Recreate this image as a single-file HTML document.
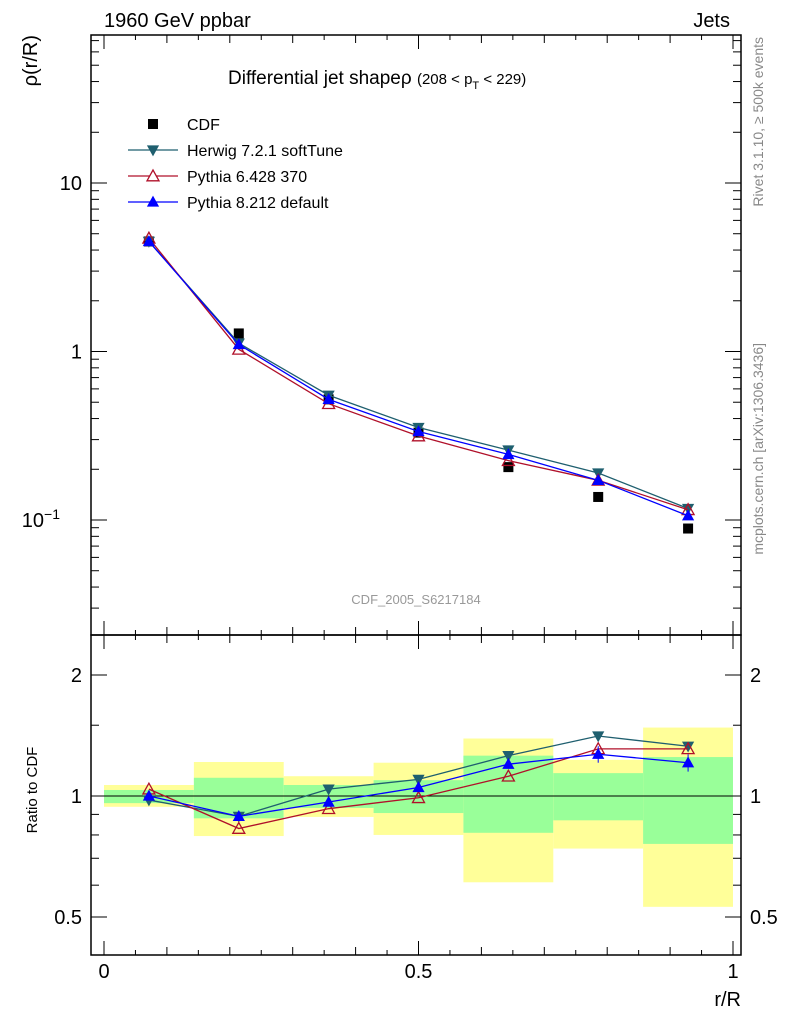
<!DOCTYPE html>
<html><head><meta charset="utf-8"><style>
html,body{margin:0;padding:0;background:#fff;}
svg{display:block;font-family:"Liberation Sans",sans-serif;}
</style></head><body>
<svg id="c" width="786" height="1024" viewBox="0 0 786 1024"></svg>
<script>
const categories=[0.0714,0.2143,0.3571,0.5,0.6429,0.7857,0.9286];
const binEdges=[0,0.1429,0.2857,0.4286,0.5714,0.7143,0.8571,1];
const cdfVals=[4.5,1.28,0.52,0.33,0.206,0.137,0.089];
const herwigVals=[4.5,1.12,0.55,0.354,0.26,0.19,0.117];
const py6Vals=[4.7,1.03,0.49,0.315,0.225,0.172,0.115];
const py8Vals=[4.5,1.1,0.52,0.335,0.245,0.172,0.106];
const herwigRatio=[0.977,0.89,1.04,1.10,1.26,1.41,1.33];
const py6Ratio=[1.04,0.83,0.93,0.99,1.12,1.31,1.31];
const py8Ratio=[1.0,0.89,0.966,1.05,1.20,1.27,1.21];
const py8RatioErr=[0.02,0.02,0.02,0.02,0.03,0.06,0.06];
const yellowHi=[1.065,1.215,1.12,1.21,1.39,1.23,1.48];
const yellowLo=[0.94,0.795,0.887,0.80,0.61,0.74,0.53];
const greenHi=[1.035,1.11,1.065,1.095,1.26,1.14,1.25];
const greenLo=[0.96,0.88,0.934,0.907,0.81,0.87,0.76];
const mainTicks=[["1",1],["10",10]];
const ratioTicks=[["0.5",0.5],["1",1],["2",2]];
const xTicks=[["0",0],["0.5",0.5],["1",1]];

const svg=document.getElementById('c');const NS='http://www.w3.org/2000/svg';
function mk(t,a,p){const e=document.createElementNS(NS,t);for(const k in a)e.setAttribute(k,a[k]);(p||svg).appendChild(e);return e;}
const L=91,R=741,T1=35,B1=635,T2=635,B2=955;
const X=v=>104+v*629;
const Y1=v=>183-(Math.log10(v)-1)*168.5;
const Y2=v=>796-Math.log2(v)*121;

for(let i=0;i<7;i++){
 const y=mk('rect',{x:X(binEdges[i]),y:Y2(yellowHi[i]),width:X(binEdges[i+1])-X(binEdges[i]),height:Y2(yellowLo[i])-Y2(yellowHi[i]),fill:'#ffff99'});
 
 
 const g=mk('rect',{x:X(binEdges[i]),y:Y2(greenHi[i]),width:X(binEdges[i+1])-X(binEdges[i]),height:Y2(greenLo[i])-Y2(greenHi[i]),fill:'#99ff99'});
 
 
}
mk('line',{x1:L,x2:R,y1:Y2(1),y2:Y2(1),stroke:'#000','stroke-width':1});

mk('rect',{x:L,y:T1,width:R-L,height:B1-T1,fill:'none',stroke:'#000','stroke-width':1.5});
mk('rect',{x:L,y:T2,width:R-L,height:B2-T2,fill:'none',stroke:'#000','stroke-width':1.5});

for(let k=0;k<=20;k++){const v=k*0.05;const len=k%10==0?14:(k%2==0?8:5);
 for(const [t,b] of [[T1,B1],[T2,B2]]){mk('line',{x1:X(v),x2:X(v),y1:b,y2:b-len,stroke:'#000'});mk('line',{x1:X(v),x2:X(v),y1:t,y2:t+len,stroke:'#000'});}}
xTicks.forEach(([s,v])=>{const t=mk('text',{x:X(v),y:978,'font-size':20,'text-anchor':'middle'});t.textContent=s;
 });
for(let d=-2;d<=1;d++)for(let m=1;m<10;m++){const v=m*Math.pow(10,d);const y=Y1(v);if(y<T1||y>B1)continue;const len=m==1?16:8;
 mk('line',{x1:L,x2:L+len,y1:y,y2:y,stroke:'#000'});mk('line',{x1:R,x2:R-len,y1:y,y2:y,stroke:'#000'});}
mainTicks.forEach(([s,v])=>{const t=mk('text',{x:82,y:Y1(v)+7,'font-size':20,'text-anchor':'end'});t.textContent=s;
 });
{const t=mk('text',{x:60,y:Y1(0.1)+7,'font-size':20,'text-anchor':'end'});t.innerHTML='10<tspan dy="-8" font-size="14">−1</tspan>';}
[0.5,0.6,0.7,0.8,0.9,1,1.5,2].forEach(v=>{const y=Y2(v);const len=(v==0.5||v==1||v==2)?16:8;
 mk('line',{x1:L,x2:L+len,y1:y,y2:y,stroke:'#000'});mk('line',{x1:R,x2:R-len,y1:y,y2:y,stroke:'#000'});});
ratioTicks.forEach(([s,v])=>{for(const [x,a] of [[82,'end'],[750,'start']]){const t=mk('text',{x:x,y:Y2(v)+7,'font-size':20,'text-anchor':a});t.textContent=s;
 }});

function tri(x,y,s,down,fill,stroke){const d=down?`M${x-s},${y-s*0.8}L${x+s},${y-s*0.8}L${x},${y+s}Z`:`M${x-s},${y+s*0.8}L${x+s},${y+s*0.8}L${x},${y-s}Z`;
 return mk('path',{d:d,fill:fill,stroke:stroke,'stroke-width':1.3});}
function series(vals,Yf,color,kind,name){
 mk('polyline',{points:vals.map((v,i)=>X(categories[i])+','+Yf(v)).join(' '),fill:'none',stroke:color,'stroke-width':1.3});
 vals.forEach((v,i)=>{const m=kind=='down'?tri(X(categories[i]),Yf(v),5,true,color,color):kind=='open'?tri(X(categories[i]),Yf(v),6,false,'none',color):tri(X(categories[i]),Yf(v),5,false,color,color);
  });
}
cdfVals.forEach((v,i)=>{const r=mk('rect',{x:X(categories[i])-5,y:Y1(v)-5,width:10,height:10,fill:'#000'});
 });
series(herwigVals,Y1,'#1f5f6f','down','herwig');
series(py6Vals,Y1,'#b0102a','open','pythia6');
series(py8Vals,Y1,'#0000ff','up','pythia8');
py8RatioErr.forEach((e,i)=>{mk('line',{x1:X(categories[i]),x2:X(categories[i]),y1:Y2(py8Ratio[i]+e),y2:Y2(py8Ratio[i]-e),stroke:'#0000ff'});});
series(herwigRatio,Y2,'#1f5f6f','down','herwig-ratio');
series(py6Ratio,Y2,'#b0102a','open','pythia6-ratio');
series(py8Ratio,Y2,'#0000ff','up','pythia8-ratio');

const leg=[['CDF','sq','#000'],['Herwig 7.2.1 softTune','down','#1f5f6f'],['Pythia 6.428 370','open','#b0102a'],['Pythia 8.212 default','up','#0000ff']];
leg.forEach((l,i)=>{const y=124+i*26;
 if(l[1]=='sq')mk('rect',{x:148,y:y-5,width:10,height:10,fill:'#000'});
 else{mk('line',{x1:128,x2:178,y1:y,y2:y,stroke:l[2],'stroke-width':1.3});
  tri(153,y,l[1]=='open'?6:5,l[1]=='down',l[1]=='open'?'#fff':l[2],l[2]);}
 const t=mk('text',{x:187,y:y+6,'font-size':16});t.textContent=l[0];
 });

function txt(s,a,name){const t=mk('text',a);t.innerHTML=s;return t;}
txt('1960 GeV ppbar',{x:104,y:27,'font-size':20},'top-left-label');
txt('Jets',{x:730,y:27,'font-size':20,'text-anchor':'end'},'top-right-label');
txt('Differential jet shapeρ <tspan font-size="15">(208 &lt; p<tspan dy="5" font-size="11">T</tspan><tspan dy="-5"> &lt; 229)</tspan></tspan>',{x:228,y:84,'font-size':19},'plot-title');
txt('ρ(r/R)',{x:0,y:0,'font-size':20,'text-anchor':'end',transform:'translate(37,35) rotate(-90)'},'y-axis-title');
txt('Ratio to CDF',{x:0,y:0,'font-size':15,'text-anchor':'middle',transform:'translate(37,790) rotate(-90)'},'ratio-axis-title');
txt('r/R',{x:741,y:1006,'font-size':20,'text-anchor':'end'},'x-axis-title');
txt('CDF_2005_S6217184',{x:416,y:604,'font-size':13,fill:'#999','text-anchor':'middle'},'analysis-id');
txt('Rivet 3.1.10, ≥ 500k events',{x:0,y:0,'font-size':14,fill:'#888','text-anchor':'end',transform:'translate(763,37) rotate(-90)'},'rivet-label');
txt('mcplots.cern.ch [arXiv:1306.3436]',{x:0,y:0,'font-size':14,fill:'#888','text-anchor':'end',transform:'translate(763,343) rotate(-90)'},'mcplots-label');
</script>
</body></html>
